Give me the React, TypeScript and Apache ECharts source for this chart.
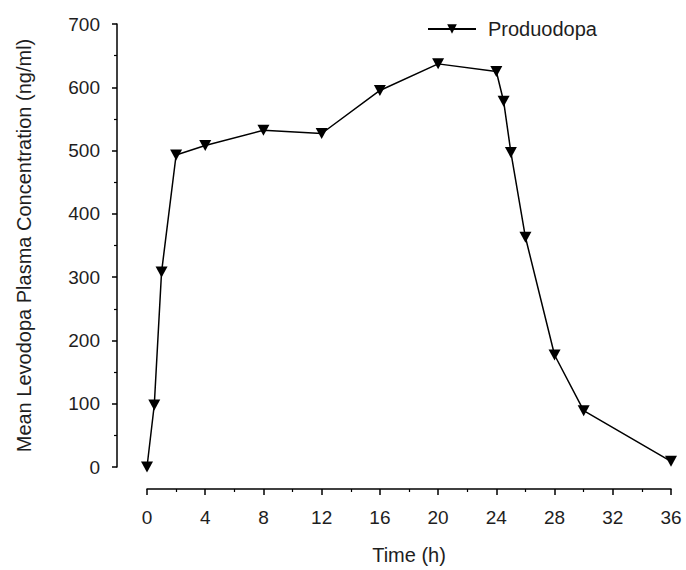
import React, { useEffect, useRef } from "react";
import * as echarts from "echarts";

const seriesName = "Produodopa";
const timeHours = [0, 0.5, 1, 2, 4, 8, 12, 16, 20, 24, 24.5, 25, 26, 28, 30, 36];
const concentration = [0, 98, 308, 493, 508, 532, 527, 595, 637, 625, 578, 497, 363, 177, 89, 9];
const xAxisTitle = "Time (h)";
const yAxisTitle = "Mean Levodopa Plasma Concentration (ng/ml)";

const FONT = "Liberation Sans, Arial, sans-serif";
const TEXT = "#1e1e1e";

export default function App() {
  const ref = useRef<HTMLDivElement>(null);
  useEffect(() => {
    if (!ref.current) return;
    const chart = echarts.init(ref.current, undefined, { renderer: "svg" });
    const data = timeHours.map((t, i) => [t, concentration[i]]);
    chart.setOption({
      animation: false,
      backgroundColor: "#ffffff",
      textStyle: { fontFamily: FONT },
      grid: { left: 147, right: 15, top: 24, bottom: 101, containLabel: false },
      legend: {
        data: [seriesName],
        left: 422,
        top: 14,
        itemWidth: 48,
        itemHeight: 12,
        textStyle: { fontFamily: FONT, fontSize: 20, color: TEXT, padding: [0, 0, 0, 7] },
      },
      xAxis: {
        type: "value",
        min: 0,
        max: 36,
        interval: 4,
        offset: 22,
        name: xAxisTitle,
        nameLocation: "middle",
        nameGap: 56,
        nameTextStyle: { fontFamily: FONT, fontSize: 20, color: TEXT },
        axisLine: { show: true, onZero: false, lineStyle: { color: "#000", width: 1.5 } },
        axisTick: { show: true, length: 6, lineStyle: { color: "#000", width: 1.5 } },
        minorTick: { show: true, splitNumber: 2, length: 3, lineStyle: { color: "#000", width: 1.2 } },
        splitLine: { show: false },
        axisLabel: { fontFamily: FONT, fontSize: 19, color: TEXT, margin: 19 },
      },
      yAxis: {
        type: "value",
        min: 0,
        max: 700,
        interval: 100,
        offset: 30,
        name: yAxisTitle,
        nameLocation: "middle",
        nameGap: 83,
        nameTextStyle: { fontFamily: FONT, fontSize: 20, color: TEXT },
        axisLine: { show: true, onZero: false, lineStyle: { color: "#000", width: 1.5 } },
        axisTick: { show: true, length: 5, lineStyle: { color: "#000", width: 1.5 } },
        minorTick: { show: true, splitNumber: 2, length: 3, lineStyle: { color: "#000", width: 1.2 } },
        splitLine: { show: false },
        axisLabel: { fontFamily: FONT, fontSize: 19, color: TEXT, margin: 17 },
      },
      series: [
        {
          name: seriesName,
          type: "line",
          data,
          symbol: "triangle",
          symbolRotate: 180,
          symbolSize: [12, 11],
          itemStyle: { color: "#000" },
          lineStyle: { color: "#000", width: 1.5 },
        },
      ],
    });
    return () => chart.dispose();
  }, []);
  return (
    <div
      ref={ref}
      style={{ position: "absolute", left: 0, top: 0, width: 686, height: 570 }}
    />
  );
}
